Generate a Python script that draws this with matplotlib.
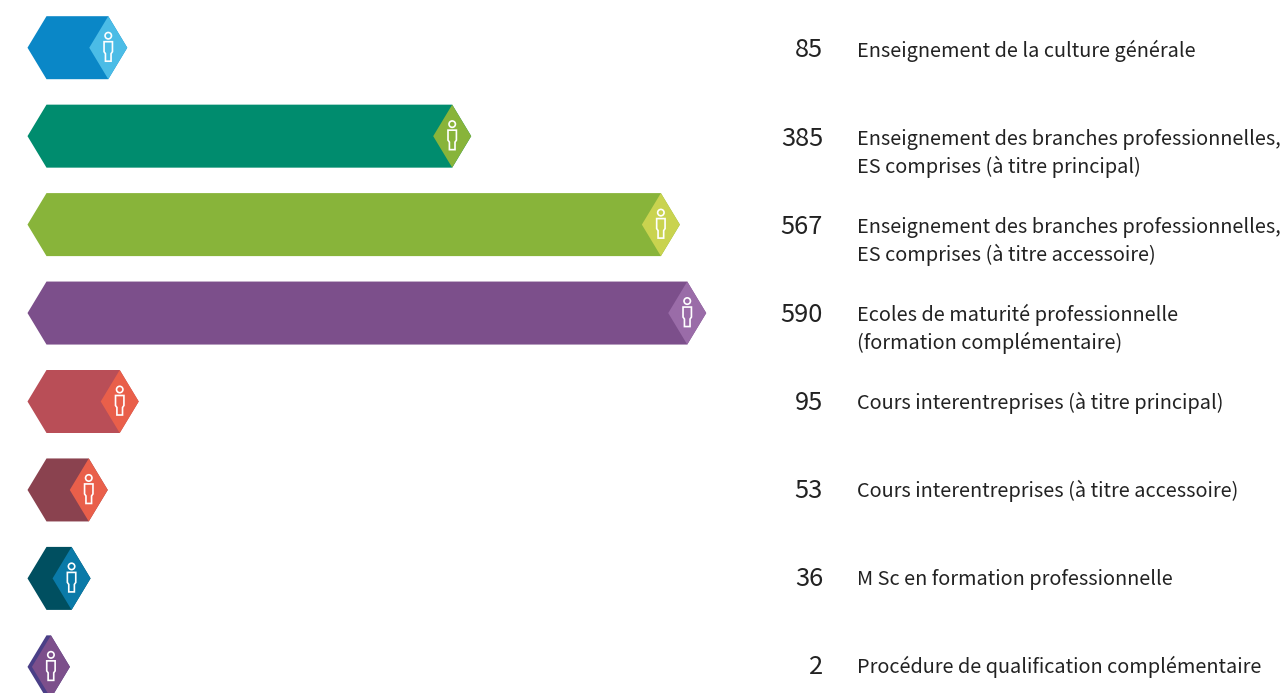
import numpy as np
import matplotlib
matplotlib.use('Agg')
import matplotlib.pyplot as plt
from matplotlib.patches import Polygon, Ellipse

plt.rcParams['font.family'] = ['Noto Sans CJK JP', 'DejaVu Sans']

# data
labels = [
    'Enseignement de la culture générale',
    'Enseignement des branches professionnelles,\nES comprises (à titre principal)',
    'Enseignement des branches professionnelles,\nES comprises (à titre accessoire)',
    'Ecoles de maturité professionnelle\n(formation complémentaire)',
    'Cours interentreprises (à titre principal)',
    'Cours interentreprises (à titre accessoire)',
    'M Sc en formation professionnelle',
    'Procédure de qualification complémentaire',
]
values = [85, 385, 567, 590, 95, 53, 36, 2]
# small bars are drawn longer than their number in the original
drawn_values = [85, 385, 567, 590, 95, 68, 53, 35]
bar_colors = ['#0a87c7', '#008c6e', '#88b43a', '#7c4f8b', '#b94e57', '#8a424f', '#004f60', '#4a3f87']
tip_colors = ['#4bbce6', '#88b43a', '#c9d34f', '#9a6ca8', '#e95f4a', '#e95f4a', '#0a7aa8', '#7c4f8b']

W, H = 1285, 693
px_per_unit = 1.1465
x0_px = 10.8
row_px = 88.45
y0_px = 47.7

fig = plt.figure(figsize=(W / 100, H / 100), dpi=100)
ax = fig.add_axes([0, 0, 1, 1])
ax.set_xlim(-x0_px / px_per_unit, (W - x0_px) / px_per_unit)
ax.set_ylim((H - y0_px) / row_px, -y0_px / row_px)
ax.axis('off')

# shape sizes in pixels, turned into data units
ux = 1 / px_per_unit
uy = 1 / row_px
half_h = 31.5 * uy
tip_w = 19 * ux
left = (27.5 - x0_px) * ux


def person(xc, yc):
    head = Ellipse((xc, yc - 12 * uy), 6.4 * ux, 6.4 * uy, fc='none', ec='white', lw=1.2)
    ax.add_patch(head)
    body_x = np.array([-4.2, 4.2, 4.2, 2.8, 2.8, -2.8, -2.8, -4.2]) * ux + xc
    body_y = np.array([-6, -6, 4, 6, 13.5, 13.5, 6, 4]) * uy + yc
    ax.add_patch(Polygon(np.c_[body_x, body_y], closed=True, fc='none', ec='white', lw=1.2))


for i, v in enumerate(drawn_values):
    end = v
    bar = Polygon([(left, i), (left + tip_w, i - half_h), (end, i - half_h), (end + tip_w, i),
                   (end, i + half_h), (left + tip_w, i + half_h)], closed=True,
                  fc=bar_colors[i], ec='none')
    ax.add_patch(bar)
    tip = Polygon([(end, i - half_h), (end + tip_w, i), (end, i + half_h), (end - tip_w, i)],
                  closed=True, fc=tip_colors[i], ec='none')
    ax.add_patch(tip)
    person(end, i)

# the text column sits on a slightly tighter row spacing than the bars
num_x = (823 - x0_px) * ux
lab_x = (857 - x0_px) * ux
for i, (v, lab) in enumerate(zip(values, labels)):
    num_y = (50.5 + 88 * i - y0_px) * uy
    lab_y = (51.2 + 88 * i - y0_px) * uy
    ax.text(num_x, num_y, str(v), ha='right', va='center', fontsize=18.3, color='#222222')
    for k, line in enumerate(lab.split('\n')):
        ax.text(lab_x, lab_y + k * 27.5 * uy, line, ha='left', va='center', fontsize=14.33, color='#222222')

fig.savefig('out.png', dpi=100, facecolor='white')
